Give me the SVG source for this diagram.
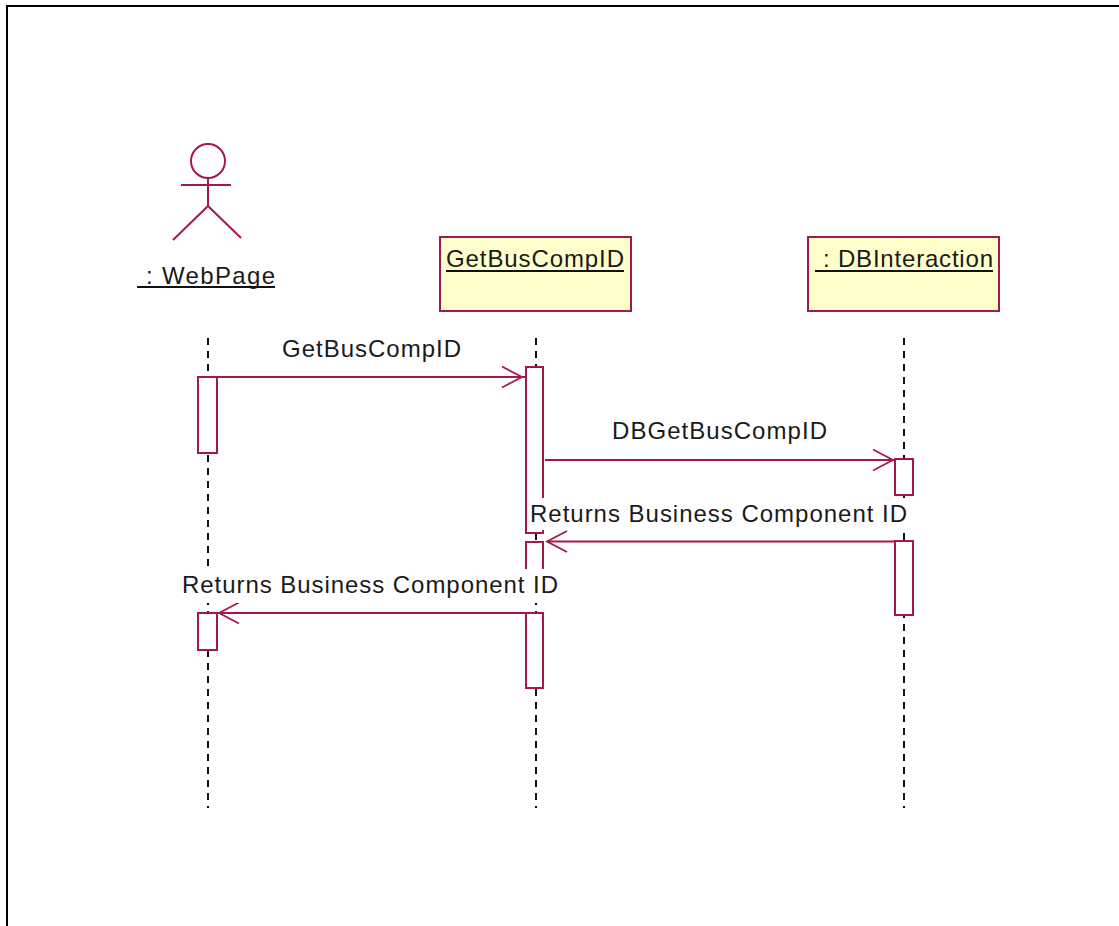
<svg xmlns="http://www.w3.org/2000/svg" width="1119" height="926" viewBox="0 0 1119 926">
<style>
.l{stroke:#a5174f;stroke-width:2;fill:none}
.a{stroke:#a5174f;stroke-width:2;fill:#fff}
.b{stroke:#a5174f;stroke-width:2;fill:#ffffcc}
.d{stroke:#111;stroke-width:2;stroke-dasharray:7 6;fill:none}
.u{stroke:#111;stroke-width:2;fill:none}
text{font-family:"Liberation Sans",Arial,sans-serif;font-size:24px;fill:#1a1a1a}
</style>
<defs>
<marker id="open" markerUnits="userSpaceOnUse" markerWidth="24" markerHeight="26" refX="21" refY="13" orient="auto-start-reverse">
<path d="M1 2.500L21 13L1 23.500" fill="none" stroke="#a5174f" stroke-width="1.800"/>
</marker>
</defs>
<rect width="1119" height="926" fill="#fff"/>
<path d="M7 926V6H1119" fill="none" stroke="#000" stroke-width="2"/>
<g id="connectors">
<path class="d" d="M208 338V808"/>
<path class="d" d="M536 338V808"/>
<path class="d" d="M904 338V808"/>
</g>
<g id="webpage">
<circle class="l" cx="208" cy="161" r="17"/>
<path class="l" d="M208 177V206M181 185H231M208 206L173 240M208 206L241 238"/>
<text x="146" y="284" textLength="129">: WebPage</text>
<path class="u" d="M137 287H275"/>
<rect class="a" x="198" y="377" width="19" height="76"/>
<rect class="a" x="198" y="613" width="19" height="37"/>
</g>
<g id="getbuscompid">
<rect class="b" x="440" y="237" width="191" height="74"/>
<text x="446" y="267" textLength="178">GetBusCompID</text>
<path class="u" d="M446 271H624"/>
<rect class="a" x="526" y="367" width="17" height="166"/>
<rect class="a" x="526" y="542" width="17" height="40"/>
<rect class="a" x="526" y="613" width="17" height="75"/>
</g>
<g id="dbinteraction">
<rect class="b" x="808" y="237" width="191" height="74"/>
<text x="823" y="267" textLength="170">: DBInteraction</text>
<path class="u" d="M815 271H993"/>
<rect class="a" x="895" y="459" width="18" height="36"/>
<rect class="a" x="895" y="541" width="18" height="74"/>
</g>
<g id="messages">
<path class="l" d="M217 377H522" marker-end="url(#open)"/>
<path class="l" d="M545 460H893" marker-end="url(#open)"/>
<path class="l" d="M895 541.500H547" marker-end="url(#open)"/>
<path class="l" d="M526 613H219" marker-end="url(#open)"/>
<path class="l" d="M522 377H526M893 460H895M217 613H219"/>
<rect x="529" y="498" width="379" height="32" fill="#fff"/>
<rect x="181" y="569" width="378" height="34" fill="#fff"/>
<text x="282" y="357" textLength="179">GetBusCompID</text>
<text x="612" y="439" textLength="215">DBGetBusCompID</text>
<text x="530" y="522" textLength="377">Returns Business Component ID</text>
<text x="182" y="593" textLength="376">Returns Business Component ID</text>
</g>
</svg>
